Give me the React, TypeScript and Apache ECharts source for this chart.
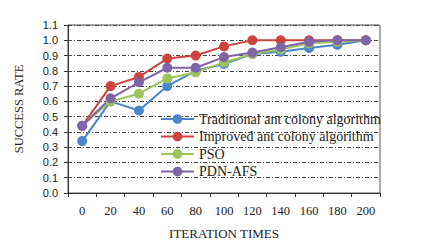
import React, { useEffect, useRef } from "react";
import * as echarts from "echarts";

const categories = ["0", "20", "40", "60", "80", "100", "120", "140", "160", "180", "200"];
const traditional = [0.34, 0.6, 0.54, 0.7, 0.8, 0.845, 0.91, 0.925, 0.95, 0.97, 1.0];
const improved = [0.44, 0.7, 0.76, 0.88, 0.9, 0.96, 1.0, 1.0, 1.0, 1.0, 1.0];
const pso = [0.44, 0.6, 0.65, 0.75, 0.79, 0.855, 0.91, 0.94, 0.98, 0.99, 1.0];
const pdn = [0.44, 0.62, 0.725, 0.82, 0.82, 0.89, 0.92, 0.955, 0.99, 1.0, 1.0];
const seriesNames = [
  "Traditional ant colony algorithm",
  "Improved ant colony algorithm",
  "PSO",
  "PDN-AFS",
];
const colors = ["#4a86c8", "#cc4340", "#9bc55a", "#8064a8"];

const serif = "'Liberation Serif', 'DejaVu Serif', serif";
const sans = "'Liberation Sans', 'DejaVu Sans', sans-serif";

export default function App() {
  const ref = useRef<HTMLDivElement>(null);
  useEffect(() => {
    document.body.style.margin = "0";
    const chart = echarts.init(ref.current!, null, { renderer: "svg" });
    const data = [traditional, improved, pso, pdn];
    chart.setOption({
      animation: false,
      backgroundColor: "#ffffff",
      grid: {
        left: 68,
        right: 59,
        top: 25,
        bottom: 58,
        show: true,
        borderColor: "#555",
        borderWidth: 1,
        containLabel: false,
      },
      legend: {
        orient: "vertical",
        left: 160,
        top: 112,
        padding: 0,
        itemWidth: 33,
        itemHeight: 12,
        itemGap: 3.5,
        textStyle: { fontFamily: serif, fontSize: 14, color: "#222" },
        data: seriesNames,
      },
      xAxis: {
        type: "category",
        data: categories,
        boundaryGap: true,
        name: "ITERATION TIMES",
        nameLocation: "middle",
        nameGap: 34,
        nameTextStyle: { fontFamily: serif, fontSize: 13, color: "#222" },
        axisLine: { lineStyle: { color: "#333", width: 1 } },
        axisTick: { show: true, length: 4, lineStyle: { color: "#333" } },
        axisLabel: { fontFamily: serif, fontSize: 12.5, color: "#222", margin: 11 },
        splitLine: { show: false },
      },
      yAxis: {
        type: "value",
        min: 0,
        max: 1.1,
        interval: 0.1,
        name: "SUCCESS RATE",
        nameLocation: "middle",
        nameGap: 43,
        nameTextStyle: { fontFamily: serif, fontSize: 12.5, color: "#222" },
        axisLine: { show: true, lineStyle: { color: "#333", width: 1 } },
        axisTick: { show: true, length: 4, lineStyle: { color: "#333" } },
        axisLabel: {
          fontFamily: sans,
          fontSize: 11,
          color: "#222",
          margin: 10,
          formatter: (v: number) => v.toFixed(1),
        },
        splitLine: {
          show: true,
          lineStyle: { color: "#444", width: 1, type: [4, 2, 1, 2] },
        },
      },
      series: data.map((d, i) => ({
        name: seriesNames[i],
        type: "line",
        data: d,
        symbol: "circle",
        symbolSize: 10,
        lineStyle: { color: colors[i], width: 2 },
        itemStyle: { color: colors[i] },
      })),
    });
    return () => chart.dispose();
  }, []);
  return <div ref={ref} style={{ width: 439, height: 251 }} />;
}
